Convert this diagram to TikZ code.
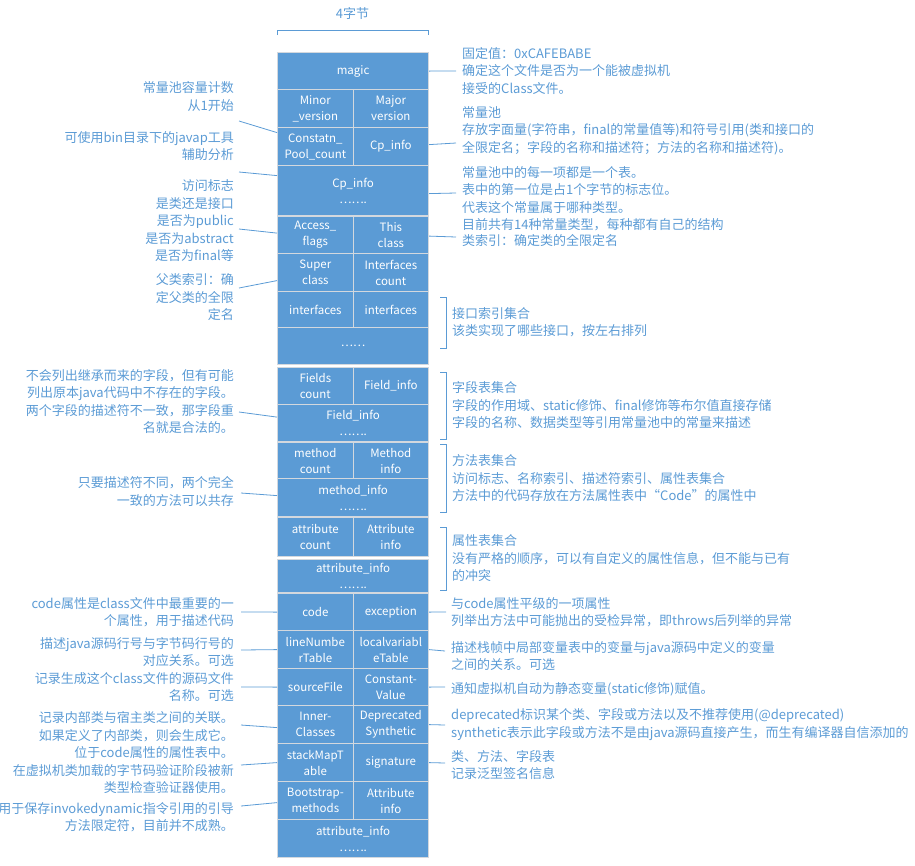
\documentclass[tikz,border=0pt]{standalone}
\usepackage{fontspec}
\setmainfont{Noto Sans CJK SC}
\usetikzlibrary{calc}
\definecolor{cellblue}{HTML}{5B9BD5}
\definecolor{noteblue}{HTML}{5B9BD5}
\definecolor{cellline}{HTML}{D3D8DE}
\tikzset{>=latex}

\begin{document}
\begin{tikzpicture}[x=1pt,y=-1pt,
    cell/.style={rectangle,fill=cellblue,draw=cellline,line width=1.2pt,text=white,inner sep=0pt,
        align=center,anchor=north west,font=\fontsize{11.5}{16}\selectfont},
    full/.style={cell,minimum width=151pt},
    half/.style={cell,minimum width=75.5pt},
    noteL/.style={anchor=east,align=right,text=noteblue,inner sep=0pt,font=\fontsize{13}{17.5}\selectfont},
    noteR/.style={anchor=west,align=left,text=noteblue,inner sep=0pt,font=\fontsize{13}{17.5}\selectfont},
    conn/.style={draw=noteblue,line width=0.8pt}]
    \useasboundingbox (0,0) rectangle (915,865);

    % top bracket
    \node[text=noteblue,font=\fontsize{13}{17.5}\selectfont] (bytes) at (352.5,14) {4字节};
    \draw[conn] (277,35) -- (277,30) -- (428,30) -- (428,35);

    % class file layout
    \node[full,minimum height=37pt] (magic) at (277,52) {magic};
    \node[half,minimum height=38pt] (minor) at (277,89) {Minor\\\_version};
    \node[half,minimum height=38pt] (major) at (352.5,89) {Major\\version};
    \node[half,minimum height=38pt] (poolcount) at (277,127) {Constatn\_\\Pool\_count};
    \node[half,minimum height=38pt] (cpinfo) at (352.5,127) {Cp\_info};
    \node[full,minimum height=50pt] (cpmore) at (277,165) {Cp\_info\\…….};
    \node[half,minimum height=37pt] (access) at (277,216) {Access\_\\flags};
    \node[half,minimum height=37pt] (thisclass) at (352.5,216) {This\\class};
    \node[half,minimum height=38pt] (super) at (277,253) {Super\\class};
    \node[half,minimum height=38pt] (ifcount) at (352.5,253) {Interfaces\\count};
    \node[half,minimum height=36pt] (iface) at (277,291) {interfaces};
    \node[half,minimum height=36pt] (ifaceb) at (352.5,291) {interfaces};
    \node[full,minimum height=37pt] (ifmore) at (277,327) {……};
    \node[half,minimum height=37pt] (fcount) at (277,367) {Fields\\count};
    \node[half,minimum height=37pt] (finfo) at (352.5,367) {Field\_info};
    \node[full,minimum height=37pt] (fmore) at (277,404) {Field\_info\\…….};
    \node[half,minimum height=36pt] (mcount) at (277,442) {method\\count};
    \node[half,minimum height=36pt] (minfo) at (352.5,442) {Method\\info};
    \node[full,minimum height=38pt] (mmore) at (277,478) {method\_info\\…….};
    \node[half,minimum height=39pt] (acount) at (277,517) {attribute\\count};
    \node[half,minimum height=39pt] (ainfo) at (352.5,517) {Attribute\\info};
    \node[full,minimum height=33pt] (amore) at (277,559) {attribute\_info\\…….};
    \node[half,minimum height=37pt] (code) at (277,593) {code};
    \node[half,minimum height=37pt] (exception) at (352.5,593) {exception};
    \node[half,minimum height=38pt] (linenum) at (277,630) {lineNumbe\\rTable};
    \node[half,minimum height=38pt] (localvar) at (352.5,630) {localvariabl\\eTable};
    \node[half,minimum height=37pt] (srcfile) at (277,668) {sourceFile};
    \node[half,minimum height=37pt] (constval) at (352.5,668) {Constant-\\Value};
    \node[half,minimum height=38pt] (inner) at (277,705) {Inner-\\Classes};
    \node[half,minimum height=38pt] (deprec) at (352.5,705) {Deprecated\\Synthetic};
    \node[half,minimum height=38pt] (stackmap) at (277,743) {stackMapT\\able};
    \node[half,minimum height=38pt] (signature) at (352.5,743) {signature};
    \node[half,minimum height=38pt] (bootstrap) at (277,781) {Bootstrap-\\methods};
    \node[half,minimum height=38pt] (attrinfo) at (352.5,781) {Attribute\\info};
    \node[full,minimum height=38pt] (attrmore) at (277,819) {attribute\_info\\…….};

    % notes on the left
    \node[noteL] (poolnote) at (234,96.5) {常量池容量计数\\从1开始};
    \node[noteL] (javapnote) at (234,146) {可使用bin目录下的javap工具\\辅助分析};
    \node[noteL] (accessnote) at (234,221) {访问标志\\是类还是接口\\是否为public\\是否为abstract\\是否为final等};
    \node[noteL] (supernote) at (234,297.5) {父类索引：确\\定父类的全限\\定名};
    \node[noteL] (fieldnote) at (234,401.5) {不会列出继承而来的字段，但有可能\\列出原本java代码中不存在的字段。\\两个字段的描述符不一致，那字段重\\名就是合法的。};
    \node[noteL] (methodnote) at (234,491.5) {只要描述符不同，两个完全\\一致的方法可以共存};
    \node[noteL] (codenote) at (234,612) {code属性是class文件中最重要的一\\个属性，用于描述代码};
    \node[noteL] (linenote) at (234,652) {描述java源码行号与字节码行号的\\对应关系。可选};
    \node[noteL] (srcnote) at (234,687) {记录生成这个class文件的源码文件\\名称。可选};
    \node[noteL] (innernote) at (234,753) {记录内部类与宿主类之间的关联。\\如果定义了内部类，则会生成它。\\位于code属性的属性表中。\\在虚拟机类加载的字节码验证阶段被新\\类型检查验证器使用。};
    \node[noteL] (bootnote) at (234,817) {用于保存invokedynamic指令引用的引导\\方法限定符，目前并不成熟。};

    % notes on the right
    \node[noteR] (magicnote) at (462,71) {固定值：0xCAFEBABE\\确定这个文件是否为一个能被虚拟机\\接受的Class文件。};
    \node[noteR] (cpnote) at (462,130.5) {常量池\\存放字面量(字符串，final的常量值等)和符号引用(类和接口的\\全限定名；字段的名称和描述符；方法的名称和描述符)。};
    \node[noteR] (cpmorenote) at (462,198.5) {常量池中的每一项都是一个表。\\表中的第一位是占1个字节的标志位。\\代表这个常量属于哪种类型。\\目前共有14种常量类型，每种都有自己的结构};
    \node[noteR] (thisnote) at (462,241) {类索引：确定类的全限定名};
    \node[noteR] (ifnote) at (452,322) {接口索引集合\\该类实现了哪些接口，按左右排列};
    \node[noteR] (fieldsnote) at (452,405.5) {字段表集合\\字段的作用域、static修饰、final修饰等布尔值直接存储\\字段的名称、数据类型等引用常量池中的常量来描述};
    \node[noteR] (methodsnote) at (452,478.5) {方法表集合\\访问标志、名称索引、描述符索引、属性表集合\\方法中的代码存放在方法属性表中“Code”的属性中};
    \node[noteR] (attrnote) at (452,558.5) {属性表集合\\没有严格的顺序，可以有自定义的属性信息，但不能与已有\\的冲突};
    \node[noteR] (excnote) at (451,612) {与code属性平级的一项属性\\列举出方法中可能抛出的受检异常，即throws后列举的异常};
    \node[noteR] (localnote) at (451,656) {描述栈帧中局部变量表中的变量与java源码中定义的变量\\之间的关系。可选};
    \node[noteR] (constnote) at (451,689) {通知虚拟机自动为静态变量(static修饰)赋值。};
    \node[noteR] (deprecnote) at (451,724.5) {deprecated标识某个类、字段或方法以及不推荐使用(@deprecated)\\synthetic表示此字段或方法不是由java源码直接产生，而生有编译器自信添加的};
    \node[noteR] (signote) at (451,765) {类、方法、字段表\\记录泛型签名信息};

    % brackets
    \draw[conn] (440,297) -- (446,297) -- (446,348) -- (440,348);
    \draw[conn] (440,372) -- (446,372) -- (446,439) -- (440,439);
    \draw[conn] (440,444) -- (446,444) -- (446,512) -- (440,512);
    \draw[conn] (440,527) -- (446,527) -- (446,590) -- (440,590);

    % connectors, left side
    \coordinate (la) at (239,121);
    \coordinate (lb) at (239,172);
    \coordinate (lc) at (239,229);
    \coordinate (ld) at (239,288);
    \coordinate (le) at (239,412);
    \coordinate (lf) at (241,493);
    \coordinate (lg) at (241,612);
    \coordinate (lh) at (241,650);
    \coordinate (li) at (241,687);
    \coordinate (lj) at (241,725);
    \coordinate (lk) at (241,765);
    \coordinate (ll) at (241,806);
    \draw[conn] (la) -- ([yshift=14pt]poolcount.west);
    \draw[conn] (lb) -- ([yshift=15pt]cpmore.west);
    \draw[conn] (lc) -- ([yshift=2pt]access.west);
    \draw[conn] (ld) -- ([yshift=-8pt]super.west);
    \draw[conn] (le) -- ([yshift=6pt]fmore.west);
    \draw[conn] (lf) -- ([yshift=2pt]mmore.west);
    \draw[conn] (lg) -- (code.west);
    \draw[conn] (lh) -- (linenum.west);
    \draw[conn] (li) -- (srcfile.west);
    \draw[conn] (lj) -- ([yshift=-3pt]inner.west);
    \draw[conn] (lk) -- (stackmap.west);
    \draw[conn] (ll) -- ([yshift=-2pt]bootstrap.west);

    % connectors, right side
    \coordinate (ra) at (456,71);
    \coordinate (rb) at (456,143);
    \coordinate (rc) at (456,193);
    \coordinate (rd) at (456,237);
    \coordinate (re) at (446,612);
    \coordinate (rf) at (445,651);
    \coordinate (rg) at (445,687);
    \coordinate (rh) at (445,725);
    \coordinate (ri) at (445,763);
    \draw[conn] (magic.east) -- (ra);
    \draw[conn] ([yshift=2pt]cpinfo.east) -- (rb);
    \draw[conn] ([yshift=-3pt]cpmore.east) -- (rc);
    \draw[conn] ([yshift=-1pt]thisclass.east) -- (rd);
    \draw[conn] (exception.east) -- (re);
    \draw[conn] (localvar.east) -- (rf);
    \draw[conn] (constval.east) -- (rg);
    \draw[conn] (deprec.east) -- (rh);
    \draw[conn] (signature.east) -- (ri);
\end{tikzpicture}
\end{document}
